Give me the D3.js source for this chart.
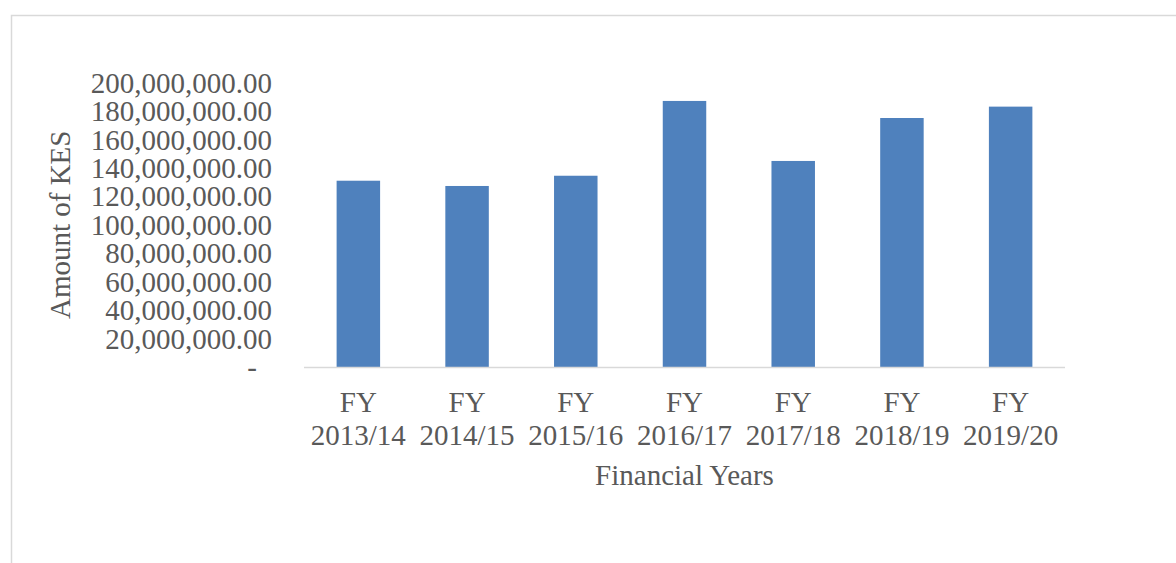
<!DOCTYPE html>
<html>
<head>
<meta charset="utf-8">
<script src="https://cdn.jsdelivr.net/npm/d3@7"></script>
<style>
  body { margin: 0; background: #fff; }
  svg text { font-family: "Liberation Serif", "Times New Roman", serif; fill: #595959; }
</style>
</head>
<body>
<svg id="canvas" width="1176" height="563"></svg>
<script>
const YEARS = ["FY 2013/14", "FY 2014/15", "FY 2015/16", "FY 2016/17", "FY 2017/18", "FY 2018/19", "FY 2019/20"];
const AMOUNTS = [131000000, 127300000, 134500000, 187100000, 144900000, 175100000, 183100000];
const Y_TICKS = [0, 20000000, 40000000, 60000000, 80000000, 100000000, 120000000, 140000000, 160000000, 180000000, 200000000];

const BAR_COLOR = "#4f81bd";

let canvas = d3.select("#canvas")

// chart frame (runs past the right and bottom edges of the window)
canvas.append("rect")
    .attr("x", 11.5)
    .attr("y", 15.5)
    .attr("width", 1300)
    .attr("height", 700)
    .attr("fill", "white")
    .attr("stroke", "#d9d9d9")
    .attr("stroke-width", 1.5)

let x = d3.scaleBand()
    .domain(YEARS)
    .range([304, 1065])
    .paddingInner(0.6)
    .paddingOuter(0.3)

let y = d3.scaleLinear()
    .domain([0, 200000000])
    .range([367, 82.6])

let fmt = d3.format(",.2f")

// y axis labels, no line
let yAxis = canvas.append("g")
    .attr("transform", "translate(272,0)")
    .call(d3.axisLeft(y).tickValues(Y_TICKS).tickSize(0).tickPadding(0)
        .tickFormat(d => d === 0 ? "-" : fmt(d)))

yAxis.select(".domain").remove()
yAxis.selectAll("text")
    .attr("font-size", 29)
    .attr("dy", "0.33em")
    .attr("fill", "#595959")
    .attr("dx", d => d === 0 ? -15 : 0)

// bars
canvas.selectAll(".bar")
    .data(AMOUNTS)
    .enter()
    .append("rect")
    .attr("class", "bar")
    .attr("x", (d, i) => x(YEARS[i]))
    .attr("y", d => y(d))
    .attr("width", x.bandwidth())
    .attr("height", d => y(0) - y(d))
    .attr("fill", BAR_COLOR)

// x axis line
canvas.append("line")
    .attr("x1", 304)
    .attr("x2", 1065)
    .attr("y1", y(0) + 0.5)
    .attr("y2", y(0) + 0.5)
    .attr("stroke", "#d9d9d9")
    .attr("stroke-width", 1.5)

// x labels on two lines
let xLabels = canvas.selectAll(".xlabel")
    .data(YEARS)
    .enter()
    .append("text")
    .attr("class", "xlabel")
    .attr("text-anchor", "middle")
    .attr("font-size", 29)

xLabels.selectAll("tspan")
    .data(d => d.split(" ").map(p => ({ part: p, cat: d })))
    .enter()
    .append("tspan")
    .attr("x", d => x(d.cat) + x.bandwidth() / 2)
    .attr("y", (d, i) => 412 + i * 33)
    .text(d => d.part)

// axis titles
canvas.append("text")
    .attr("x", x.range ? (304 + 1065) / 2 : 0)
    .attr("y", 485)
    .attr("text-anchor", "middle")
    .attr("font-size", 29)
    .text("Financial Years")

canvas.append("text")
    .attr("transform", "translate(70," + (y(0) + y(200000000)) / 2 + ") rotate(-90)")
    .attr("text-anchor", "middle")
    .attr("font-size", 29)
    .text("Amount of KES")
</script>
</body>
</html>
